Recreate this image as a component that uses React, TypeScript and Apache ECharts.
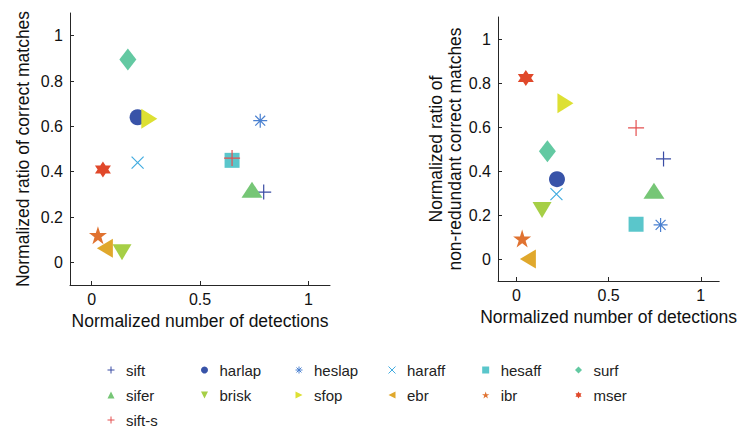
import React, { useEffect, useRef } from "react";
import * as echarts from "echarts";

// ---- data ----
const names = ["sift", "harlap", "heslap", "haraff", "hesaff", "surf", "sifer", "brisk", "sfop", "ebr", "ibr", "mser", "sift-s"];
const colors = ["#3a4ca4", "#3853a8", "#4a80d0", "#42ace0", "#5ac6cb", "#63c9a2", "#76c676", "#a6cf46", "#dde033", "#e0a82c", "#e07230", "#e0482a", "#e45050"];
const detectionsLeft = [0.794, 0.212, 0.778, 0.212, 0.648, 0.167, 0.74, 0.14, 0.266, 0.061, 0.029, 0.052, 0.648];
const ratioLeft = [0.31, 0.64, 0.625, 0.44, 0.45, 0.895, 0.32, 0.045, 0.633, 0.062, 0.12, 0.41, 0.46];
const detectionsRight = [0.798, 0.22, 0.782, 0.217, 0.649, 0.168, 0.746, 0.139, 0.266, 0.062, 0.031, 0.051, 0.649];
const ratioRight = [0.455, 0.363, 0.155, 0.295, 0.158, 0.49, 0.31, 0.223, 0.708, 0.0, 0.093, 0.823, 0.596];
const yTicks = [0, 0.2, 0.4, 0.6, 0.8, 1];
const xTicks = [0, 0.5, 1];
const legendColumns = [
  ["sift", "sifer", "sift-s"],
  ["harlap", "brisk"],
  ["heslap", "sfop"],
  ["haraff", "ebr"],
  ["hesaff", "ibr"],
  ["surf", "mser"],
];

// ---- marker shapes ----
const PLUS = "path://M0,5L10,5M5,0L5,10";
const CROSS = "path://M0,0L10,10M0,10L10,0";
const ASTER = "path://M0,5L10,5M5,0L5,10M1.46,1.46L8.54,8.54M1.46,8.54L8.54,1.46";
const SQUARE = "path://M0,0L10,0L10,10L0,10Z";
const DIAMOND = "path://M5,0L10,5L5,10L0,5Z";
const TRI_UP = "path://M5,0L10,10L0,10Z";
const TRI_DOWN = "path://M0,0L10,0L5,10Z";
const TRI_RIGHT = "path://M0,0L10,5L0,10Z";
const TRI_LEFT = "path://M10,0L10,10L0,5Z";
const STAR5 = "path://M5,0L6.123,3.455L9.755,3.455L6.816,5.59L7.939,9.045L5,6.91L2.061,9.045L3.184,5.59L0.245,3.455L3.877,3.455Z";
const HEXA = "path://M5,0L6.443,2.5L9.33,2.5L7.887,5L9.33,7.5L6.443,7.5L5,10L3.557,7.5L0.67,7.5L2.113,5L0.67,2.5L3.557,2.5Z";

const symbols = [PLUS, "circle", ASTER, CROSS, SQUARE, DIAMOND, TRI_UP, TRI_DOWN, TRI_RIGHT, TRI_LEFT, STAR5, HEXA, PLUS];
const sizes: any[] = [15, 16, 14, 12, 15, [17, 22], [21, 16], [19, 16], [16, 20], [16, 19], 18, 16, 16];
const strokeOnly = [true, false, true, true, false, false, false, false, false, false, false, false, true];

const FONT = "'Liberation Sans', Arial, Helvetica, sans-serif";
const AXIS_COLOR = "#262626";

function makeSeries(axisIndex: number, xs: number[], ys: number[]) {
  return names.map((n, i) => ({
    type: "scatter",
    name: n,
    xAxisIndex: axisIndex,
    yAxisIndex: axisIndex,
    data: [[xs[i], ys[i]]],
    symbol: symbols[i],
    symbolSize: sizes[i],
    itemStyle: strokeOnly[i]
      ? { color: colors[i], borderColor: colors[i], borderWidth: 1.2, opacity: 1 }
      : { color: colors[i], borderWidth: 0, opacity: 1 },
    emphasis: { disabled: true },
    silent: true,
  }));
}

function xAxis(gridIndex: number) {
  return {
    type: "value",
    gridIndex,
    min: -0.1,
    max: 1.1,
    name: "Normalized number of detections",
    nameLocation: "middle",
    nameGap: 27,
    nameTextStyle: { fontSize: 17.5, color: "#111", fontFamily: FONT },
    axisLine: { show: true, onZero: false, lineStyle: { color: AXIS_COLOR, width: 1 } },
    axisTick: { show: true, inside: true, length: 4, customValues: xTicks, lineStyle: { color: AXIS_COLOR } },
    axisLabel: { fontSize: 16, color: "#111", margin: 6, customValues: xTicks, formatter: (v: number) => String(v), fontFamily: FONT },
    splitLine: { show: false },
  };
}

function yAxis(gridIndex: number, name: string, nameGap: number) {
  return {
    type: "value",
    gridIndex,
    min: -0.1,
    max: 1.1,
    name,
    nameLocation: "middle",
    nameGap,
    nameTextStyle: { fontSize: 17.5, lineHeight: 19, color: "#111", fontFamily: FONT },
    axisLine: { show: true, onZero: false, lineStyle: { color: AXIS_COLOR, width: 1 } },
    axisTick: { show: true, inside: true, length: 4, customValues: yTicks, lineStyle: { color: AXIS_COLOR } },
    axisLabel: { fontSize: 16, color: "#111", margin: 7, customValues: yTicks, formatter: (v: number) => String(v), fontFamily: FONT },
    splitLine: { show: false },
  };
}

const legendLefts = [107, 201, 295, 388, 482, 575];

export default function App() {
  const ref = useRef<HTMLDivElement>(null);
  useEffect(() => {
    if (!ref.current) return;
    const chart = echarts.init(ref.current, undefined, { renderer: "svg" });
    const option: any = {
      animation: false,
      backgroundColor: "#ffffff",
      textStyle: { fontFamily: FONT },
      grid: [
        { left: 70, top: 13, width: 260, height: 272 },
        { left: 498, top: 17, width: 233, height: 264 },
      ],
      xAxis: [xAxis(0), xAxis(1)],
      yAxis: [
        yAxis(0, "Normalized ratio of correct matches", 38),
        yAxis(1, "Normalized ratio of\nnon-redundant correct matches", 33),
      ],
      legend: legendColumns.map((col, ci) => ({
        orient: "vertical",
        left: legendLefts[ci],
        top: 362,
        padding: 0,
        itemWidth: 20,
        itemHeight: 7,
        itemGap: 9,
        symbolKeepAspect: true,
        selectedMode: false,
        data: col,
        itemStyle: { borderWidth: 1 },
        textStyle: { fontSize: 15, lineHeight: 16, color: "#222", fontFamily: FONT },
      })),
      series: [...makeSeries(0, detectionsLeft, ratioLeft), ...makeSeries(1, detectionsRight, ratioRight)],
    };
    chart.setOption(option);
    return () => chart.dispose();
  }, []);
  return (
    <div
      ref={ref}
      style={{ position: "fixed", left: 0, top: 0, width: 740, height: 430, background: "#fff" }}
    />
  );
}
